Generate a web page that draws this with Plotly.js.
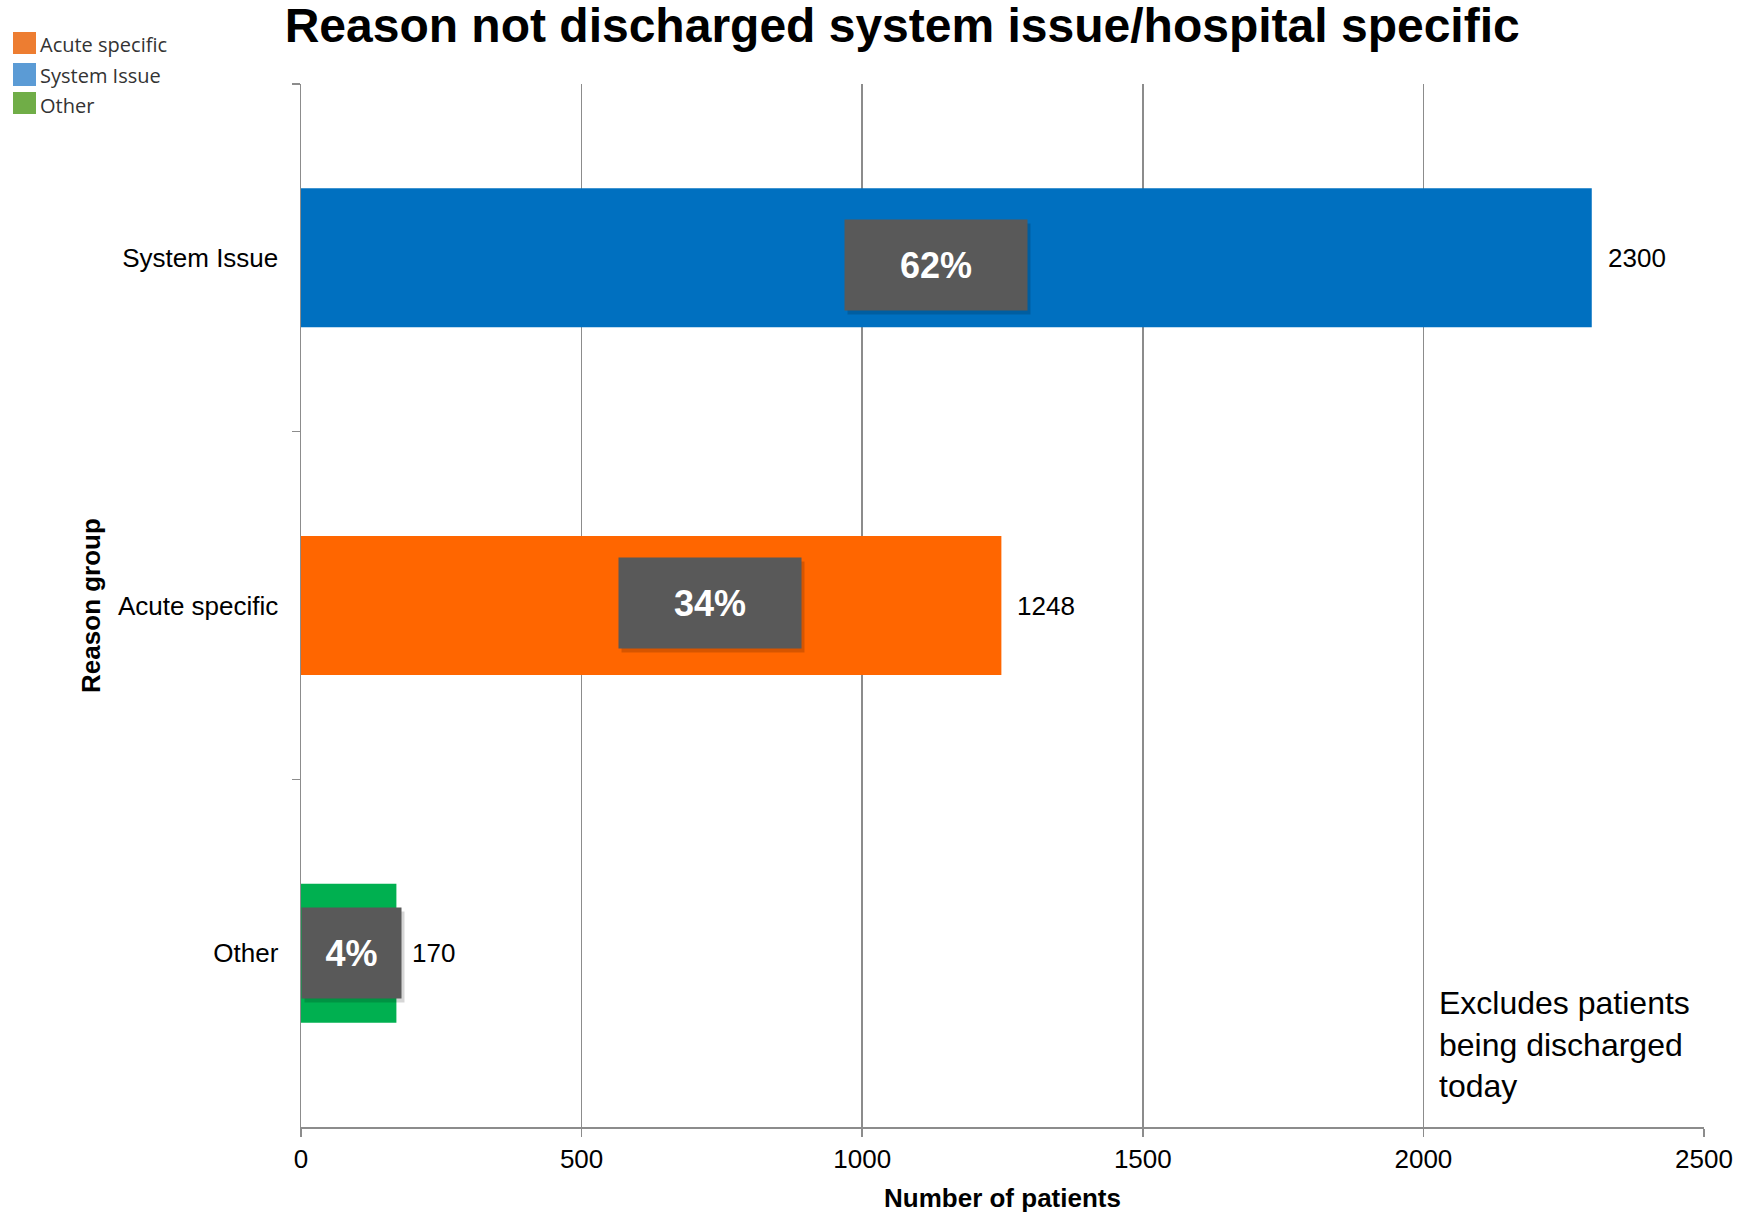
<!DOCTYPE html>
<html>
<head>
<meta charset="utf-8">
<script src="https://cdn.plot.ly/plotly-3.0.1.min.js"></script>
<style>html,body{margin:0;padding:0;background:#fff;}#chart{width:1745px;height:1213px;}</style>
</head>
<body>
<div id="chart"></div>
<script>
// ---- data ----
const categories = ['System Issue', 'Acute specific', 'Other'];
const patients = [2300, 1248, 170];
const percentLabels = ['62%', '34%', '4%'];
const barColors = ['#0070C0', '#FF6600', '#00B050'];
const legendLabels = ['Acute specific', 'System Issue', 'Other'];
const legendColors = ['#ED7D31', '#5B9BD5', '#70AD47'];
const xTicks = [0, 500, 1000, 1500, 2000, 2500];

const FONT = 'Liberation Sans, Arial, sans-serif';

const trace = {
  type: 'bar',
  orientation: 'h',
  y: categories,
  x: patients,
  width: 0.4,
  marker: {color: barColors, line: {width: 0}},
  hoverinfo: 'x+y',
  showlegend: false
};

// style tweaks for percent boxes (pixel offsets / sizes)
const boxW = [182, 182, 99];
const boxShiftX = [-10, 59, 3];
const boxShiftY = [-7, 3, 0];

const annotations = [];
categories.forEach((c, i) => {
  // shadow
  annotations.push({
    x: patients[i] / 2, y: c, xref: 'x', yref: 'y',
    text: '', showarrow: false, width: boxW[i], height: 90,
    bgcolor: 'rgba(0,0,0,0.16)', borderpad: 0,
    xshift: boxShiftX[i] + 3, yshift: boxShiftY[i] - 4
  });
  annotations.push({
    x: patients[i] / 2, y: c, xref: 'x', yref: 'y',
    text: '<b>' + percentLabels[i] + '</b>', showarrow: false,
    width: boxW[i], height: 90, bgcolor: '#595959', borderpad: 0,
    font: {family: FONT, size: 36, color: '#ffffff'},
    xshift: boxShiftX[i], yshift: boxShiftY[i]
  });
  annotations.push({
    x: patients[i], y: c, xref: 'x', yref: 'y',
    text: String(patients[i]), showarrow: false,
    xanchor: 'left', xshift: 14,
    font: {family: FONT, size: 26, color: '#000000'}
  });
});

annotations.push({
  xref: 'paper', yref: 'paper', x: 0.81, y: 0.079,
  xanchor: 'left', yanchor: 'middle', align: 'left',
  text: 'Excludes patients<br>being discharged<br>today',
  showarrow: false,
  font: {family: FONT, size: 32, color: '#000000'}
});

// legend (drawn manually to match the original colour swatches)
const shapes = [];
const swY = [[30, 52], [-2, 21], [-30, -8]];
const lgShiftY = [40, 9, -21];
legendLabels.forEach((l, i) => {
  shapes.push({
    type: 'rect', xref: 'paper', yref: 'paper',
    xsizemode: 'pixel', ysizemode: 'pixel', xanchor: 0, yanchor: 1,
    x0: -288, x1: -265, y0: swY[i][0], y1: swY[i][1],
    fillcolor: legendColors[i], line: {width: 0}
  });
  annotations.push({
    xref: 'paper', yref: 'paper', x: 0, y: 1,
    xanchor: 'left', yanchor: 'middle', xshift: -263, yshift: lgShiftY[i],
    text: l, showarrow: false,
    font: {family: 'Open Sans, sans-serif', size: 20, color: '#333333'}
  });
});

const layout = {
  width: 1745, height: 1213,
  margin: {l: 301, r: 41, t: 84, b: 86},
  paper_bgcolor: '#ffffff', plot_bgcolor: '#ffffff',
  title: {
    text: '<b>Reason not discharged system issue/hospital specific</b>',
    font: {family: FONT, size: 48, color: '#000000'},
    x: 0.517, xanchor: 'center', xref: 'container',
    y: 0.979, yanchor: 'middle', yref: 'container'
  },
  xaxis: {
    range: [0, 2500],
    tickvals: xTicks,
    ticktext: xTicks.map(String),
    showgrid: true, gridcolor: '#8c8c8c', gridwidth: 1.5,
    zeroline: false,
    showline: true, linecolor: '#8c8c8c', linewidth: 1.5,
    ticks: 'outside', ticklen: 8, tickcolor: '#8c8c8c', tickwidth: 1.5,
    ticklabelstandoff: 0,
    tickfont: {family: FONT, size: 26, color: '#000000'},
    title: {text: '<b>Number of patients</b>', font: {family: FONT, size: 26, color: '#000000'}, standoff: 20},
    fixedrange: true
  },
  yaxis: {
    type: 'category',
    categoryorder: 'array', categoryarray: categories,
    autorange: 'reversed',
    showgrid: false, zeroline: false,
    showline: true, linecolor: '#8c8c8c', linewidth: 1.5,
    ticks: 'outside', tickson: 'boundaries', ticklen: 8, tickcolor: '#8c8c8c', tickwidth: 1.5,
    ticklabelstandoff: 16,
    tickfont: {family: FONT, size: 26, color: '#000000'},
    title: {text: '<b>Reason group</b>', font: {family: FONT, size: 26, color: '#000000'}, standoff: 10},
    fixedrange: true
  },
  bargap: 0.6,
  annotations: annotations,
  shapes: shapes,
  showlegend: false
};

Plotly.newPlot('chart', [trace], layout, {displayModeBar: false, staticPlot: true});
</script>
</body>
</html>
